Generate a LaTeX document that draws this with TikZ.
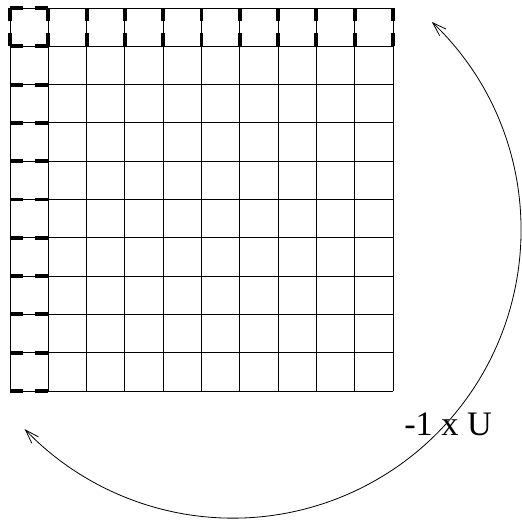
\documentclass[tikz,border=0pt]{standalone}
\usepackage{fontspec}
\setmainfont{Liberation Serif}
\usetikzlibrary{arrows.meta, calc}

\begin{document}
\begin{tikzpicture}[>={Straight Barb[length=3.6mm,width=2.4mm]},
  thin grid/.style={line width=0.6pt},
  bold dash/.style={line width=2.9pt,dash pattern=on 9.5pt off 9.4pt},
  turn/.style={line width=0.6pt,<->},
  lbl/.style={font=\fontsize{25.5}{30}\selectfont,inner sep=0pt,anchor=base}]
  \useasboundingbox (-0.261,-3.420) rectangle (13.368,10.209);
  \draw[thin grid] (0,0) grid (10,10);
  % top row and left column
  \foreach \i in {0,...,10} {
    \draw[bold dash] (\i,10) -- (\i,9);
    \draw[bold dash] (0,\i) -- (1,\i);
  }
  \coordinate (ctr) at (5.82,4.20);
  \coordinate (from) at ($(ctr)+(46.3:7.52)$);
  \draw[turn] (from) arc[start angle=46.3,end angle=-136.3,radius=7.52];
  \node[lbl] (mult) at (11.44,-1.15) {-1 x U};
\end{tikzpicture}
\end{document}
